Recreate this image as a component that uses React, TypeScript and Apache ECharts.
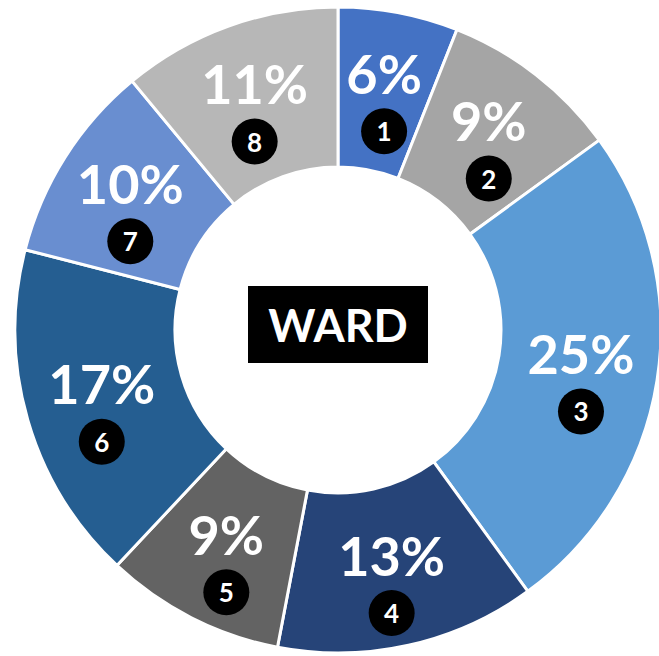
import React, { useEffect, useRef } from "react";
import * as echarts from "echarts";

const categories = ["1", "2", "3", "4", "5", "6", "7", "8"];
const values = [6, 9, 25, 13, 9, 17, 10, 11];
const colors = ["#4472C4", "#A5A5A5", "#5B9BD5", "#264478", "#636363", "#255E91", "#698ED0", "#B7B7B7"];
const centerTitle = "WARD";

export default function App() {
  const ref = useRef<HTMLDivElement>(null);
  useEffect(() => {
    if (!ref.current) return;
    const chart = echarts.init(ref.current, null, { renderer: "svg" });
    const font = "Lato, 'Open Sans', sans-serif";
    const common = {
      type: "pie",
      center: [338, 330],
      radius: [163, 323],
      startAngle: 90,
      clockwise: true,
      avoidLabelOverlap: false,
      labelLine: { show: false },
    };
    chart.setOption({
      animation: false,
      backgroundColor: "#ffffff",
      graphic: [
        {
          type: "group",
          left: 248,
          top: 286,
          children: [
            { type: "rect", shape: { x: 0, y: 0, width: 180, height: 77 }, style: { fill: "#000000" } },
            {
              type: "text",
              x: 90,
              y: 39,
              style: {
                text: centerTitle,
                fill: "#ffffff",
                font: `bold 45px ${font}`,
                textAlign: "center",
                textVerticalAlign: "middle",
              },
            },
          ],
        },
      ],
      series: [
        {
          ...common,
          itemStyle: { borderColor: "#ffffff", borderWidth: 3 },
          label: {
            show: true,
            position: "inside",
            offset: [0, -15],
            formatter: (p: any) => `${p.value}%`,
            color: "#ffffff",
            fontFamily: font,
            fontWeight: "bold",
            fontSize: 54,
          },
          data: categories.map((c, i) => ({ name: c, value: values[i], itemStyle: { color: colors[i] } })),
        },
        {
          ...common,
          silent: true,
          itemStyle: { color: "rgba(0,0,0,0)", borderWidth: 0 },
          label: {
            show: true,
            position: "inside",
            offset: [0, 43],
            formatter: (p: any) => p.name,
            color: "#ffffff",
            fontFamily: font,
            fontWeight: "bold",
            fontSize: 26,
            lineHeight: 26,
            backgroundColor: "#000000",
            width: 26,
            padding: 10,
            borderRadius: 23,
            align: "center",
          },
          data: categories.map((c, i) => ({ name: c, value: values[i] })),
        },
      ],
    });
    return () => chart.dispose();
  }, []);
  return (
    <div
      ref={ref}
      style={{ position: "absolute", left: 0, top: 0, width: 659, height: 656 }}
    />
  );
}
